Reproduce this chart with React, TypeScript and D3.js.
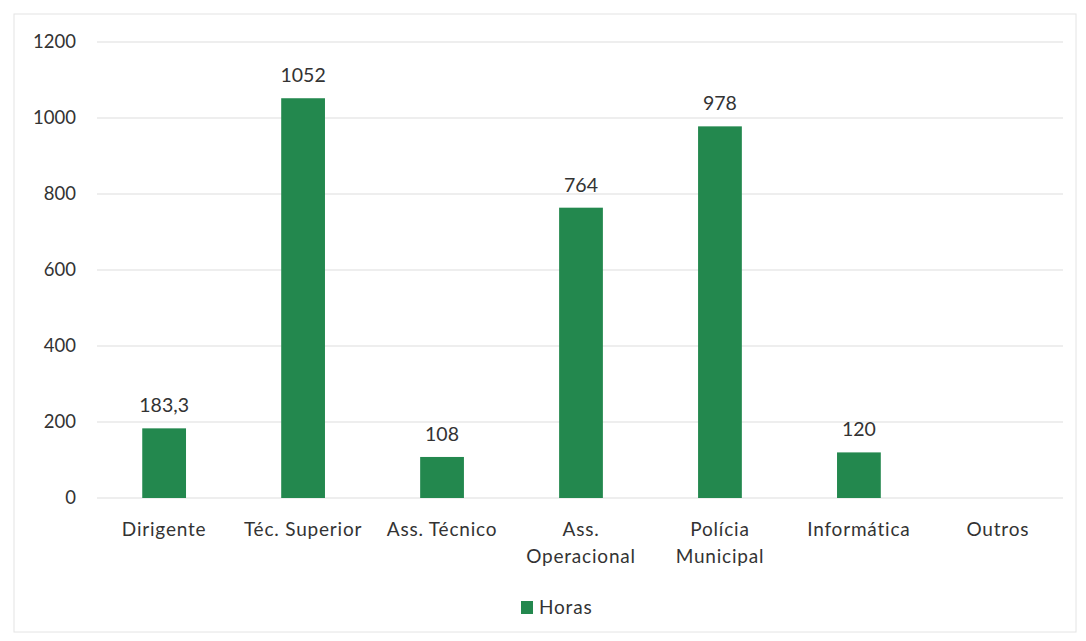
import React from "react";
import * as d3 from "d3";

const categories = ["Dirigente", "Téc. Superior", "Ass. Técnico", "Ass. Operacional", "Polícia Municipal", "Informática", "Outros"];
const categoryLines = [["Dirigente"], ["Téc. Superior"], ["Ass. Técnico"], ["Ass.", "Operacional"], ["Polícia", "Municipal"], ["Informática"], ["Outros"]];
const horas: (number | null)[] = [183.3, 1052, 108, 764, 978, 120, null];
const yTicks = [0, 200, 400, 600, 800, 1000, 1200];
const seriesName = "Horas";

const W = 1086, H = 641;
const left = 95, right = 1067, top = 42, bottom = 498;
const color = "#23884e";
const font = "Lato, 'Open Sans', sans-serif";

export default function App() {
  const x = d3.scaleBand().domain(categories).range([left, right]).paddingInner(0.685).paddingOuter(0.34);
  const y = d3.scaleLinear().domain([0, 1200]).range([bottom, top]);
  const fmt = (v: number) => (Number.isInteger(v) ? String(v) : String(v).replace(".", ","));
  return (
    <svg width={W} height={H} style={{ position: "absolute", left: 0, top: 0, background: "#fff" }}>
      <rect x={14} y={14} width={1062} height={618} fill="none" stroke="#e4e4e4" strokeWidth={1} />
      {yTicks.map((t) => (
        <g key={t}>
          <line x1={97} x2={1063} y1={y(t)} y2={y(t)} stroke="#dedede" strokeWidth={1.2} />
          <text x={76} y={y(t)} dy="0.35em" textAnchor="end" fontFamily={font} fontSize={18.5} fill="#333">{t}</text>
        </g>
      ))}
      {categories.map((c, i) => {
        const v = horas[i];
        const cx = (x(c) as number) + x.bandwidth() / 2;
        return (
          <g key={c}>
            {v != null && (
              <>
                <rect x={x(c)} y={y(v)} width={x.bandwidth()} height={y(0) - y(v)} fill={color} />
                <text x={cx} y={y(v) - 16} textAnchor="middle" fontFamily={font} fontSize={19.5} fill="#333">{fmt(v)}</text>
              </>
            )}
            {categoryLines[i].map((ln, j) => (
              <text key={j} x={cx} y={536 + j * 27} textAnchor="middle" fontFamily={font} fontSize={19} letterSpacing={0.8} fill="#333">{ln}</text>
            ))}
          </g>
        );
      })}
      <rect x={521} y={601} width={12} height={13} fill={color} />
      <text x={539} y={614} fontFamily={font} fontSize={19} letterSpacing={0.8} fill="#333">{seriesName}</text>
    </svg>
  );
}
